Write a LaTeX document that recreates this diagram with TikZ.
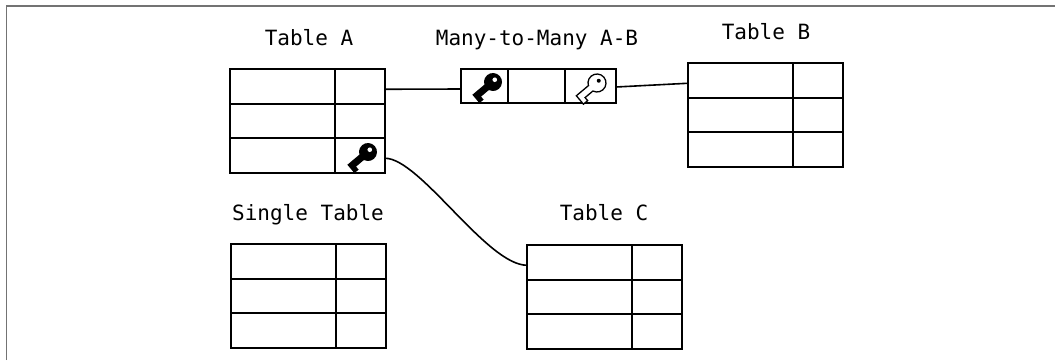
\documentclass[tikz,border=0pt]{standalone}
\usepackage{fontspec}
\newfontfamily\labelfont{DejaVu Sans Mono}
\usetikzlibrary{positioning}
\usetikzlibrary{calc}

\tikzset{
  cell/.style={draw, line width=2pt, inner sep=0, outer sep=0, minimum height=34.5pt},
  wide/.style={cell, minimum width=105pt},
  narrow/.style={cell, minimum width=50pt},
  tabletitle/.style={font=\labelfont\fontsize{21}{25}\selectfont, anchor=base, inner sep=0},
  link/.style={line width=1.6pt},
  pics/fullkey/.style={code={
    \fill[black] (-8.29,3.5) -- (-24,3.5) -- (-24,-7.5) -- (-18.5,-7.5) -- (-18.5,-3.5) -- (-8.29,-3.5)
      arc[start angle=202.9, end angle=517.1, radius=9] -- cycle;
    \fill[white] (2.8,0.6) circle (2.3);
  }},
  pics/openkey/.style={code={
    \draw[line width=1.3pt, fill=white] (-8.29,3.5) -- (-24,3.5) -- (-24,-7.5) -- (-18.5,-7.5) -- (-18.5,-3.5) -- (-8.29,-3.5)
      arc[start angle=202.9, end angle=517.1, radius=9] -- cycle;
    \fill[black] (2.8,0.6) circle (2);
  }}
}

% three rows, name and top left corner
\newcommand{\dbtable}[3]{%
  \node[wide, anchor=north west] (#1-1) at (#2,#3) {};
  \node[narrow, right=0pt of #1-1] (#1-1-k) {};
  \node[wide, below=0pt of #1-1] (#1-2) {};
  \node[narrow, right=0pt of #1-2] (#1-2-k) {};
  \node[wide, below=0pt of #1-2] (#1-3) {};
  \node[narrow, right=0pt of #1-3] (#1-3-k) {};
}

\begin{document}
\begin{tikzpicture}[x=1pt, y=1pt]
  \useasboundingbox (0,0) rectangle (1055,-360);

  % frame
  \draw[black!55, line width=1.6pt] (6.5,-360) -- (6.5,-6) -- (1055,-6);

  % tables
  \dbtable{A}{230}{-69}
  \dbtable{B}{688}{-63}
  \dbtable{S}{231}{-244}
  \dbtable{C}{527}{-245}

  % join table
  \node[cell, minimum width=47pt, minimum height=34pt, anchor=north west] (M-1) at (461,-69) {};
  \node[cell, minimum width=57pt, minimum height=34pt, right=0pt of M-1] (M-2) {};
  \node[cell, minimum width=51pt, minimum height=34pt, right=0pt of M-2] (M-3) {};

  % titles
  \node[tabletitle] (titleA) at (309,-45) {Table A};
  \node[tabletitle] (titleM) at (537,-45) {Many-to-Many A-B};
  \node[tabletitle] (titleB) at (766,-39.5) {Table B};
  \node[tabletitle] (titleS) at (308,-220.5) {Single Table};
  \node[tabletitle] (titleC) at (604,-220.5) {Table C};

  % keys
  \pic[rotate=40] at (368,-152) {fullkey};
  \pic[rotate=40] at (493,-82) {fullkey};
  \pic[rotate=40] at (597,-83) {openkey};

  % relations
  \draw[link] ([yshift=-3pt]A-1-k.east) -- ([yshift=-3pt]M-1.west);
  \draw[link] ([yshift=-1pt]M-3.east) -- ([yshift=-3pt]B-1.west);
  \draw[link] ([yshift=-3pt]A-3-k.east) .. controls +(35,0) and +(-40,0) .. ([yshift=-3pt]C-1.west);
\end{tikzpicture}
\end{document}
